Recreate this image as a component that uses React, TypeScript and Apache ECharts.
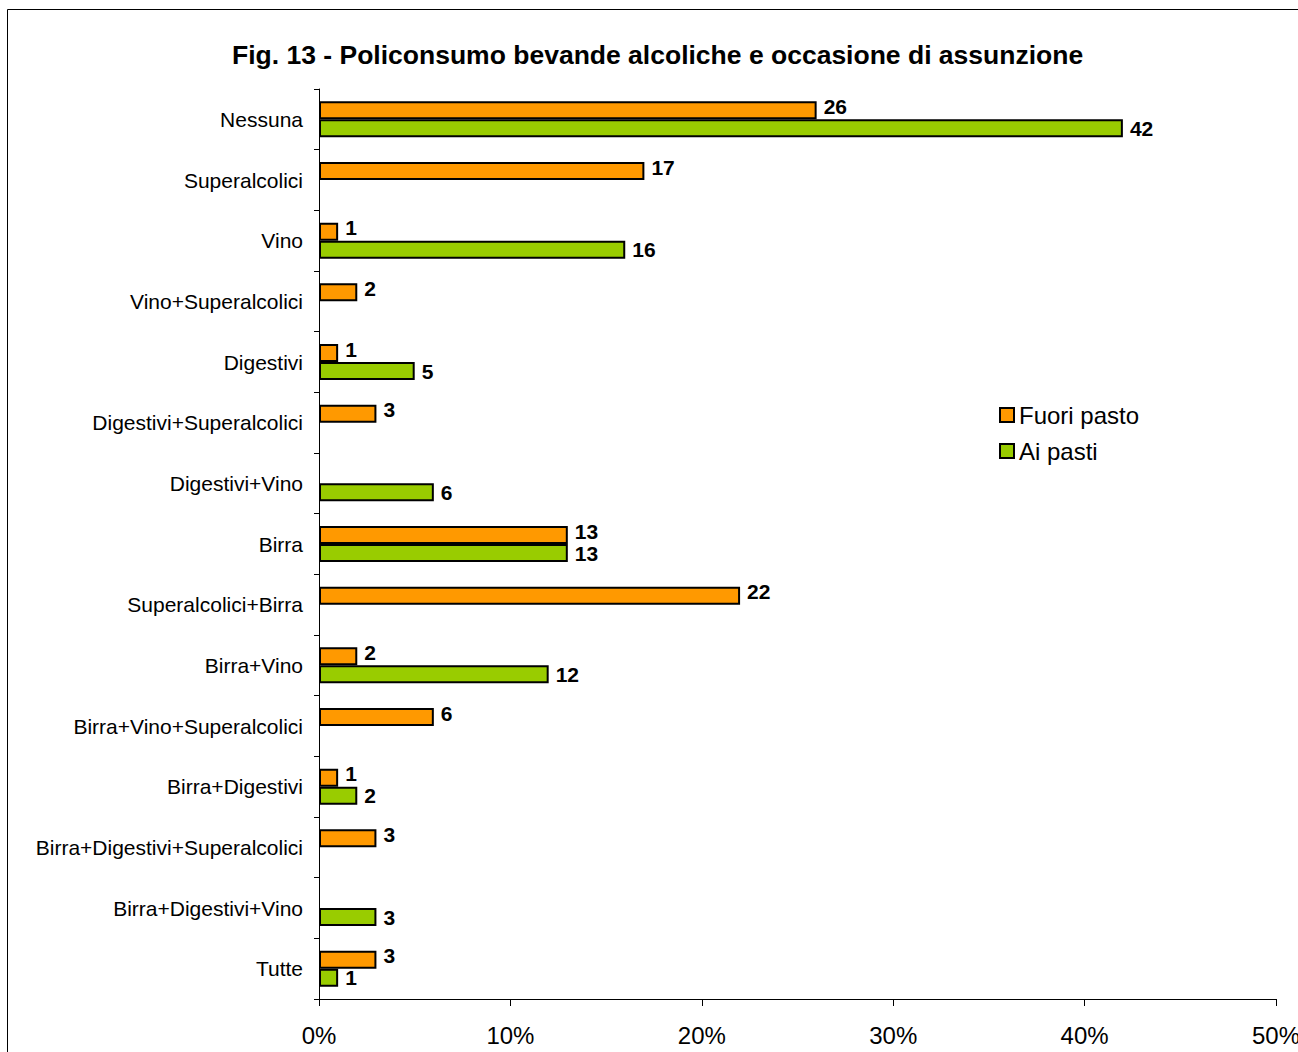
import React, { useEffect, useRef } from "react";
import * as echarts from "echarts";

const categories = [
  "Nessuna",
  "Superalcolici",
  "Vino",
  "Vino+Superalcolici",
  "Digestivi",
  "Digestivi+Superalcolici",
  "Digestivi+Vino",
  "Birra",
  "Superalcolici+Birra",
  "Birra+Vino",
  "Birra+Vino+Superalcolici",
  "Birra+Digestivi",
  "Birra+Digestivi+Superalcolici",
  "Birra+Digestivi+Vino",
  "Tutte",
];

const fuoriPasto: (number | null)[] = [26, 17, 1, 2, 1, 3, null, 13, 22, 2, 6, 1, 3, null, 3];
const aiPasti: (number | null)[] = [42, null, 16, null, 5, null, 6, 13, null, 12, null, 2, null, 3, 1];

const xTicks = [0, 10, 20, 30, 40, 50];

const FONT = "'Liberation Sans', Arial, sans-serif";

export default function App() {
  const ref = useRef<HTMLDivElement>(null);
  useEffect(() => {
    if (!ref.current) return;
    const chart = echarts.init(ref.current, null, { renderer: "svg" });
    const cats = [...categories].reverse();
    const fp = [...fuoriPasto].reverse().map((v) => (v == null ? "-" : v));
    const ap = [...aiPasti].reverse().map((v) => (v == null ? "-" : v));
    const labelCommon = {
      show: true,
      position: "right" as const,
      distance: 7,
      color: "#000",
      fontFamily: FONT,
      fontWeight: "bold" as const,
      fontSize: 21,
    };
    chart.setOption({
      animation: false,
      title: {
        text: "Fig. 13 - Policonsumo bevande alcoliche e occasione di assunzione",
        left: 227,
        top: 36,
        textStyle: { fontFamily: FONT, fontWeight: "bold", fontSize: 26.5, color: "#000" },
      },
      legend: {
        orient: "vertical",
        left: 994,
        top: 398,
        itemWidth: 14,
        itemHeight: 14,
        itemGap: 12,
        icon: "rect",
        data: ["Fuori pasto", "Ai pasti"],
        itemStyle: { borderWidth: 2, borderColor: "#000" },
        textStyle: { fontFamily: FONT, fontSize: 24, color: "#000", padding: [0, 0, 0, 0] },
      },
      grid: { left: 319, right: 22, top: 89, bottom: 53, containLabel: false, outerBoundsMode: "none" },
      xAxis: {
        type: "value",
        min: xTicks[0],
        max: xTicks[xTicks.length - 1],
        interval: 10,
        splitLine: { show: false },
        axisLine: { show: true, lineStyle: { color: "#000", width: 1 } },
        axisTick: { show: true, length: 7, lineStyle: { color: "#000" } },
        axisLabel: {
          formatter: (v: number) => v + "%",
          fontFamily: FONT,
          fontSize: 24,
          color: "#000",
          margin: 24,
        },
      },
      yAxis: {
        type: "category",
        data: cats,
        axisLine: { show: true, lineStyle: { color: "#000", width: 1 } },
        axisTick: { show: true, length: 5, lineStyle: { color: "#000" } },
        axisLabel: { fontFamily: FONT, fontSize: 21, color: "#000", margin: 16 },
      },
      series: [
        {
          name: "Fuori pasto",
          type: "bar",
          data: fp,
          barWidth: 18,
          barGap: "0%",
          itemStyle: { color: "#FF9900", borderColor: "#000", borderWidth: 2 },
          label: { ...labelCommon, offset: [0, -4] },
        },
        {
          name: "Ai pasti",
          type: "bar",
          data: ap,
          barWidth: 18,
          barGap: "0%",
          itemStyle: { color: "#99CC00", borderColor: "#000", borderWidth: 2 },
          label: { ...labelCommon, offset: [0, 0] },
        },
      ],
      graphic: [
        {
          type: "rect",
          silent: true,
          shape: { x: 7.5, y: 9.5, width: 1400, height: 1200 },
          style: { fill: "none", stroke: "#000", lineWidth: 1 },
        },
      ],
    });
    return () => chart.dispose();
  }, []);
  return (
    <div
      ref={ref}
      style={{ position: "absolute", left: 0, top: 0, width: 1298, height: 1052, background: "#fff" }}
    />
  );
}
